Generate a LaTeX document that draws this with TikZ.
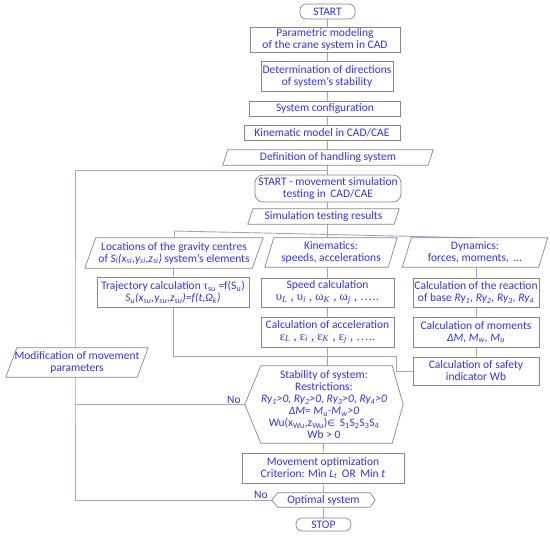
\documentclass[tikz,border=0pt]{standalone}
\usepackage{fontspec}
\setmainfont{Carlito}
\newfontfamily\gkfont{Liberation Serif}
\newfontfamily\symfont{DejaVu Sans}
\usetikzlibrary{backgrounds}
\definecolor{txt}{RGB}{50,50,232}
\definecolor{boxc}{RGB}{135,135,135}
\definecolor{conc}{RGB}{160,160,220}
\tikzset{
  every node/.style={text=txt, font=\fontsize{11.5}{12}\selectfont, align=center, inner sep=0pt},
  box/.style={draw=boxc, line width=0.7pt, fill=white},
  txtbox/.style={draw=none},
  conn/.style={draw=conc, line width=0.9pt},
  boxline/.style={draw=boxc, line width=0.7pt, fill=white},
  nolabel/.style={above left, inner sep=1pt, xshift=-3pt}
}
\newcommand{\parapath}[2]{\draw[boxline] (#1.south west) -- ([xshift=#2pt]#1.north west) -- (#1.north east) -- ([xshift=-#2pt]#1.south east) -- cycle;}
\newcommand{\sbs}[1]{\textsubscript{#1}}
\begin{document}
\begin{tikzpicture}[x=1pt,y=-1pt]
\useasboundingbox (0,0) rectangle (550,536);
% top spine
\node[box, rounded corners=6pt, minimum width=55pt, minimum height=15pt] (start) at (327.5,11.5) {START};
\node[box, minimum width=150pt, minimum height=25pt] (par) at (325,39.5) {Parametric modeling\\of the crane system in CAD};
\node[box, minimum width=132pt, minimum height=30pt] (det) at (327,76) {Determination of directions\\of system’s stability};
\node[box, minimum width=151pt, minimum height=15pt] (sys) at (325,108.5) {System configuration};
\node[box, minimum width=156pt, minimum height=15pt] (kin) at (322,132.5) {Kinematic model in CAD/CAE};
\node[txtbox, minimum width=210pt, minimum height=15pt] (def) at (328,157.5) {Definition of handling system};
\node[box, rounded corners=8pt, minimum width=146pt, minimum height=27pt] (simstart) at (328,188.5) {START - movement simulation\\testing in\, CAD/CAE};
\node[txtbox, minimum width=151pt, minimum height=15pt] (simres) at (323.5,216.5) {Simulation testing results};
% branches
\node[txtbox, minimum width=178pt, minimum height=30pt] (loc) at (174,253) {Locations of the gravity centres\\of \textit{S\sbs{i}(x\sbs{si},y\sbs{si},z\sbs{si})} system’s elements};
\node[txtbox, minimum width=132pt, minimum height=29pt] (kinem) at (331,252.5) {Kinematics:\\speeds, accelerations};
\node[txtbox, minimum width=145pt, minimum height=29pt] (dyn) at (475,252.5) {Dynamics:\\forces, moments,\, ...};
\node[box, minimum width=152pt, minimum height=30pt] (traj) at (173,292) {Trajectory calculation {\gkfont τ}\sbs{su} =f(S\sbs{u})\\\textit{S\sbs{u}(x\sbs{su},y\sbs{su},z\sbs{su})=f(t,Ω\sbs{k})}};
\node[box, minimum width=133pt, minimum height=29pt] (speed) at (327.5,292.5) {Speed calculation\\{\gkfont\fontsize{12.5}{12}\selectfont υ\sbs{\textit{L}} , υ\sbs{\textit{i}} , ω\sbs{\textit{K}} , ω\sbs{\textit{j}} , …..}};
\node[box, minimum width=133pt, minimum height=30pt] (accel) at (327.5,332) {Calculation of acceleration\\{\gkfont\fontsize{12.5}{12}\selectfont ε\sbs{\textit{L}} , ε\sbs{\textit{i}} , ε\sbs{\textit{K}} , ε\sbs{\textit{j}} , …..}};
\node[box, minimum width=126pt, minimum height=29pt] (react) at (476,292.5) {Calculation of the reaction\\of base \textit{Ry\sbs{1}, Ry\sbs{2}, Ry\sbs{3}, Ry\sbs{4}}};
\node[box, minimum width=126pt, minimum height=30pt] (mom) at (476,332) {Calculation of moments\\\textit{ΔM, M\sbs{w}, M\sbs{u}}};
\node[box, minimum width=126pt, minimum height=28pt] (safety) at (476,371) {Calculation of safety\\indicator Wb};
\node[txtbox, minimum width=142pt, minimum height=29pt] (mod) at (77,362.5) {Modification of movement\\parameters};
% lower spine
\node[txtbox, minimum width=158pt, minimum height=77pt] (stab) at (324,404.5) {Stability of system:\\Restrictions:\\\textit{Ry\sbs{1}>0, Ry\sbs{2}>0, Ry\sbs{3}>0, Ry\sbs{4}>0}\\\textit{ΔM= M\sbs{u}-M\sbs{w}>0}\\Wu(x\sbs{Wu},z\sbs{Wu}){\symfont\small∈}\, S\sbs{1}S\sbs{2}S\sbs{3}S\sbs{4}\\Wb > 0};
\node[box, minimum width=162pt, minimum height=30pt] (movopt) at (323,468) {Movement optimization\\Criterion: Min \textit{L\sbs{t}}\, OR\, Min \textit{t}};
\node[txtbox, minimum width=103pt, minimum height=14pt] (opt) at (323.5,500) {Optimal system};
\node[box, rounded corners=6pt, minimum width=55pt, minimum height=13pt] (stop) at (323.5,524.5) {STOP};
\coordinate (j1) at (327,170);
\coordinate (bus) at (327,231);
\coordinate (k1) at (396,356);
\begin{pgfonlayer}{background}
  \draw[conn] (start.south) -- (start.south |- simres.north);
  \draw[conn] (simres.south -| bus) -- (bus);
  \draw[conn] (loc.north |- bus) -- (dyn.north -| react.north);
  \draw[conn] (loc.north |- bus) -- (loc.north);
  \draw[conn] (bus) -- (bus |- kinem.north);
  \draw[conn] (loc) -- (traj);
  \draw[conn] (kinem.south -| speed.north) -- (speed.north);
  \draw[conn] (speed) -- (accel);
  \draw[conn] (accel.south) -- (accel.south |- stab.north);
  \draw[conn] (dyn.south -| react.north) -- (react.north);
  \draw[conn] (react) -- (mom);
  \draw[conn] (mom) -- (safety);
  \draw[conn] (traj) |- (k1) |- (safety);
  \draw[conn] (j1) -| (mod.north -| 75,0) -- (75,500) -- (opt.west);
  \draw[conn] (stab.west) -- (stab.west -| 75,0);
  \draw[conn] (stab) -- (movopt);
  \draw[conn] (movopt) -- (opt);
  \draw[conn] (opt) -- (stop);
  \parapath{def}{5}
  \parapath{simres}{5}
  \parapath{loc}{11}
  \parapath{kinem}{9}
  \parapath{dyn}{9}
  \parapath{mod}{11}
  \draw[boxline] (stab.west) -- ([xshift=16pt]stab.north west) -- ([xshift=-11pt]stab.north east) -- (stab.east) -- ([xshift=-11pt]stab.south east) -- ([xshift=16pt]stab.south west) -- cycle;
  \draw[boxline] (opt.west) -- ([xshift=6pt]opt.north west) -- ([xshift=-5pt]opt.north east) -- (opt.east) -- ([xshift=-5pt]opt.south east) -- ([xshift=6pt]opt.south west) -- cycle;
\end{pgfonlayer}
\node[nolabel] (no1) at (stab.west) {No};
\node[nolabel] (no2) at (opt.west) {No};
\end{tikzpicture}
\end{document}
